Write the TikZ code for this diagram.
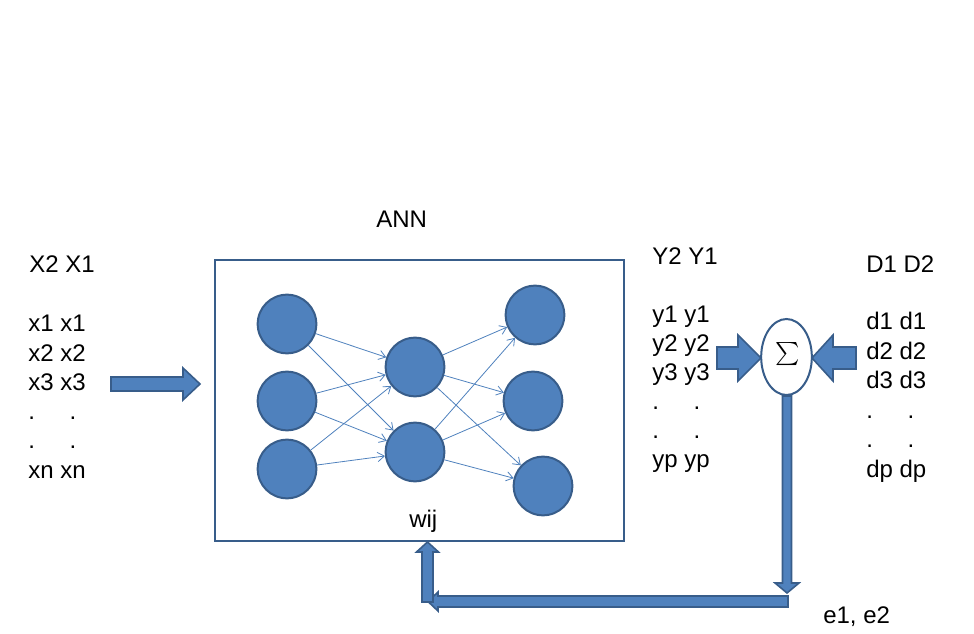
\documentclass[tikz,border=0pt]{standalone}
\usepackage{amsmath}
\usepackage{fontspec}
\setmainfont{Liberation Sans}
\usepackage{xcolor}
\usepackage{tikz}
\usetikzlibrary{positioning,shapes.geometric,arrows.meta}

\definecolor{annblue}{HTML}{4F81BD}
\definecolor{annline}{HTML}{385D8A}

\begin{document}
\begin{tikzpicture}[x=0.75pt,y=-0.75pt, font=\fontsize{18}{22}\selectfont, line join=miter]
				\useasboundingbox (0,0) rectangle (974,634);
				
				% ===== styles =====
				\tikzset{
					neuron/.style={circle, draw=annline, fill=annblue, line width=1.5pt, minimum size=44pt, inner sep=0pt},
					link/.style={draw=annblue, line width=0.6pt, -{Straight Barb[length=5pt,width=7pt]}},
					blk/.style={draw=annline, fill=annblue, line width=1.2pt},
					txt/.style={anchor=base west, inner sep=0pt}
				}
				
				% ===== khung ANN =====
				\draw[annline, line width=1.5pt] (215,260) rectangle (624,541);
				\node[txt] (ann) at (376,228) {ANN};
				\node[txt] (wij) at (409,527) {wij};
				
				% ===== cac neuron =====
				\node[neuron] (i1) at (287,324) {};
				\node[neuron] (i2) at (287,401) {};
				\node[neuron] (i3) at (287,469) {};
				\node[neuron] (h1) at (415,367) {};
				\node[neuron] (h2) at (415,452) {};
				\node[neuron] (o1) at (535,315) {};
				\node[neuron] (o2) at (533,401) {};
				\node[neuron] (o3) at (543,486) {};
				
				\foreach \a in {i1,i2,i3}{
					\foreach \b in {h1,h2}{
						\draw[link] (\a) -- (\b);
					}
				}
				\foreach \a in {h1,h2}{
					\foreach \b in {o1,o2,o3}{
						\draw[link] (\a) -- (\b);
					}
				}
				
				% ===== cot X =====
				\node[txt] (xhead) at (29,273) {X2 X1};
				\foreach \t [count=\i] in {x1 x1, x2 x2, x3 x3, .\hspace{26pt}., .\hspace{26pt}., xn xn}{
					\node[txt] (x\i) at (28,{302.8+29.2*\i}) {\t};
				}
				
				% ===== cot Y =====
				\node[txt] (yhead) at (652,265) {Y2 Y1};
				\foreach \t [count=\i] in {y1 y1, y2 y2, y3 y3, .\hspace{26pt}., .\hspace{26pt}., yp yp}{
					\node[txt] (y\i) at (652,{294.2+28.8*\i}) {\t};
				}
				
				% ===== cot D =====
				\node[txt] (dhead) at (866,273) {D1 D2};
				\foreach \t [count=\i] in {d1 d1, d2 d2, d3 d3, .\hspace{26pt}., .\hspace{26pt}., dp dp}{
					\node[txt] (d\i) at (866,{300.6+29.4*\i}) {\t};
				}
				
				% ===== bo cong =====
				\node[ellipse, draw=annline, fill=white, line width=1.5pt, minimum width=38pt, minimum height=57pt, inner sep=0pt] (sum) at (786.5,357) {};
				\node (sigma) at (787.5,354) {$\textstyle\sum$};
				\node[txt] (err) at (823,623) {e1, e2};
				
				% ===== mui ten khoi =====
				\draw[blk] (111,377) -- (183,377) -- (183,368) -- (200,384) -- (183,400) -- (183,391) -- (111,391) -- cycle;
				\draw[blk] (717,347) -- (738,347) -- (738,335) -- (761,358) -- (738,381) -- (738,369) -- (717,369) -- cycle;
				\draw[blk] (856,347) -- (833,347) -- (833,335) -- (812,358) -- (833,381) -- (833,369) -- (856,369) -- cycle;
				\draw[blk] (782.5,396) -- (791.5,396) -- (791.5,583) -- (799,583) -- (787,593) -- (775,583) -- (782.5,583) -- cycle;
				\draw[blk] (788,596) -- (438,596) -- (438,592) -- (428,601.5) -- (438,611) -- (438,607) -- (788,607) -- cycle;
				\draw[blk] (422,602) -- (422,552) -- (416.5,552) -- (427.5,542) -- (438.5,552) -- (433,552) -- (433,602) -- cycle;
			\end{tikzpicture}
\end{document}
